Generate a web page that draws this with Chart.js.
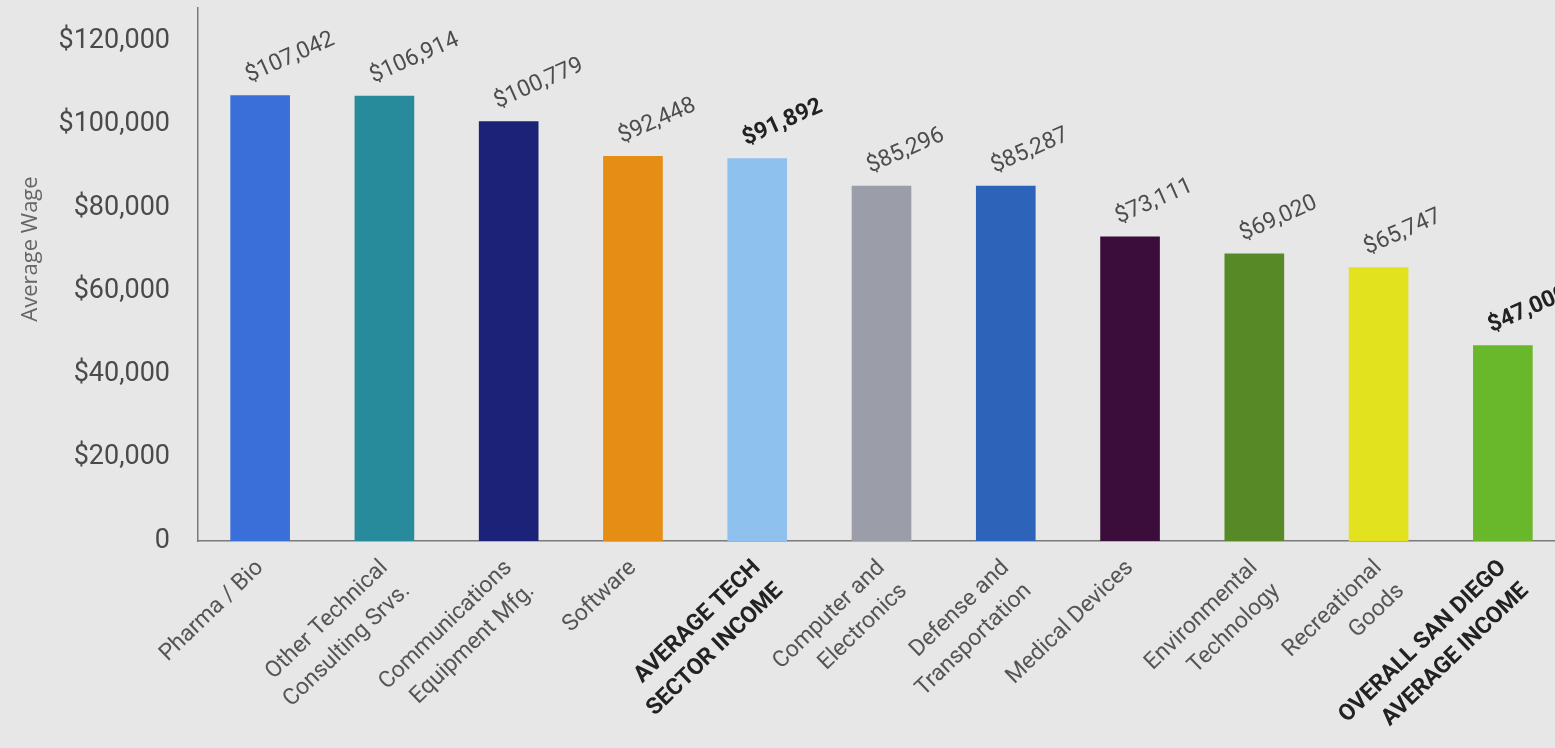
<!DOCTYPE html>
<html>
<head>
<meta charset="utf-8">
<title>Average Wage by Tech Sector</title>
<script src="https://cdn.jsdelivr.net/npm/chart.js@4.4.1/dist/chart.umd.min.js"></script>
<style>
  html, body { margin: 0; padding: 0; background: #e7e7e7; overflow: hidden; }
  #wrap { position: absolute; left: 0; top: 0; width: 1570px; height: 748px; }
</style>
</head>
<body>
<div id="wrap"><canvas id="chart"></canvas></div>
<script>
// Sector names (multi-line labels) and their average wages
const categories = [
  ["Pharma / Bio"],
  ["Other Technical", "Consulting Srvs."],
  ["Communications", "Equipment Mfg."],
  ["Software"],
  ["AVERAGE TECH", "SECTOR INCOME"],
  ["Computer and", "Electronics"],
  ["Defense and", "Transportation"],
  ["Medical Devices"],
  ["Environmental", "Technology"],
  ["Recreational", "Goods"],
  ["OVERALL SAN DIEGO", "AVERAGE INCOME"]
];
const wages = [107042, 106914, 100779, 92448, 91892, 85296, 85287, 73111, 69020, 65747, 47000];
// Summary rows (averages) are set in bold
const isAverage = [false, false, false, false, true, false, false, false, false, false, true];
const barColors = [
  "#3a6fd9", "#278b9c", "#1b2277", "#e58d14", "#8fc1ee", "#9b9da8",
  "#2d63b9", "#3b0d3b", "#578a27", "#e2e21e", "#69b82b"
];
const yTicks = [0, 20000, 40000, 60000, 80000, 100000, 120000];
const yTitle = "Average Wage";

const money = v => "$" + v.toLocaleString("en-US");

// Rotated value labels above each bar
const valueLabels = {
  id: "valueLabels",
  afterDatasetsDraw(chart) {
    const ctx = chart.ctx;
    const meta = chart.getDatasetMeta(0);
    meta.data.forEach((bar, i) => {
      ctx.save();
      ctx.translate(bar.x - 11, bar.y - 13);
      ctx.rotate(-24 * Math.PI / 180);
      ctx.font = (isAverage[i] ? "bold " : "") + "23px Roboto";
      ctx.fillStyle = isAverage[i] ? "#222222" : "#4d4d4d";
      ctx.textAlign = "left";
      ctx.textBaseline = "alphabetic";
      ctx.fillText(money(wages[i]), 0, 0);
      ctx.restore();
    });
  }
};

// Vertical axis title
const axisTitle = {
  id: "axisTitle",
  afterDraw(chart) {
    const ctx = chart.ctx;
    ctx.save();
    ctx.translate(31, 249);
    ctx.rotate(-Math.PI / 2);
    ctx.font = "22px 'Open Sans'";
    ctx.fillStyle = "#666666";
    ctx.textAlign = "center";
    ctx.textBaseline = "middle";
    ctx.fillText(yTitle, 0, 0);
    ctx.restore();
  }
};

new Chart(document.getElementById("chart"), {
  type: "bar",
  data: {
    labels: categories,
    datasets: [{
      data: wages,
      backgroundColor: barColors,
      borderWidth: 0,
      barPercentage: 0.96,
      categoryPercentage: 0.5
    }]
  },
  options: {
    responsive: true,
    maintainAspectRatio: false,
    animation: false,
    layout: { padding: { top: 8, right: 5, left: 0, bottom: 0 } },
    plugins: { legend: { display: false }, tooltip: { enabled: false } },
    scales: {
      x: {
        grid: { display: false },
        border: { display: true, color: "#7a7a7a", width: 1.5 },
        afterFit(scale) {
          scale.height = 207;
          scale.paddingLeft = 0;
          scale.paddingRight = 0;
        },
        ticks: {
          autoSkip: false,
          minRotation: 44,
          maxRotation: 44,
          padding: 4,
          color: ctx => isAverage[ctx.index] ? "#222222" : "#555555",
          font: ctx => ({
            family: "Roboto",
            size: 23,
            weight: isAverage[ctx.index] ? "bold" : "normal",
            lineHeight: 1.4
          })
        }
      },
      y: {
        min: 0,
        max: 128000,
        grid: { display: false },
        border: { display: true, color: "#7a7a7a", width: 1.5 },
        afterFit(scale) {
          scale.width = 198;
          scale.paddingTop = 0;
          scale.paddingBottom = 0;
        },
        afterBuildTicks(scale) {
          scale.ticks = yTicks.map(v => ({ value: v }));
        },
        ticks: {
          padding: 20,
          color: "#4a4a4a",
          font: { family: "Roboto", size: 27 },
          callback: v => v === 0 ? "0" : money(v)
        }
      }
    }
  },
  plugins: [valueLabels, axisTitle]
});
</script>
</body>
</html>
